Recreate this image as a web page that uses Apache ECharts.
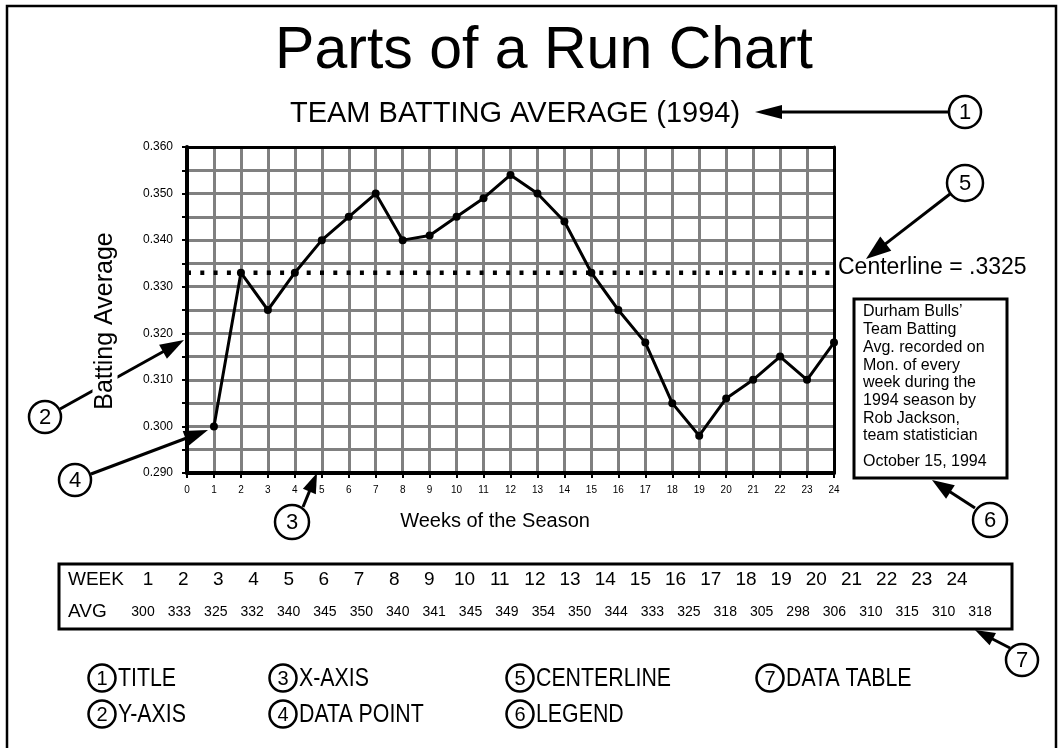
<!DOCTYPE html>
<html>
<head>
<meta charset="utf-8">
<script src="https://cdn.jsdelivr.net/npm/echarts@6/dist/echarts.min.js"></script>
<style>html,body{margin:0;padding:0;background:#fff}#c{width:1060px;height:748px}</style>
</head>
<body>
<div id="c"></div>
<script>
// ---- data ----
const weeks = [1,2,3,4,5,6,7,8,9,10,11,12,13,14,15,16,17,18,19,20,21,22,23,24];
const battingAvg = [0.300,0.333,0.325,0.333,0.340,0.345,0.350,0.340,0.341,0.345,0.349,0.354,0.350,0.344,0.333,0.325,0.318,0.305,0.298,0.306,0.310,0.315,0.310,0.318];
const tableAvg = ['300','333','325','332','340','345','350','340','341','345','349','354','350','344','333','325','318','305','298','306','310','315','310','318'];
const centerlineValue = 0.333;
const centerlineText = 'Centerline = .3325';
const titleText = 'Parts of a Run Chart';
const subtitleText = 'TEAM BATTING AVERAGE (1994)';
const xAxisName = 'Weeks of the Season';
const yAxisName = 'Batting Average';
const noteLines = ['Durham Bulls\u2019','Team Batting','Avg. recorded on','Mon. of every','week during the','1994 season by','Rob Jackson,','team statistician'];
const noteDate = 'October 15, 1994';
const keyItems = [['1','TITLE'],['2','Y-AXIS'],['3','X-AXIS'],['4','DATA POINT'],['5','CENTERLINE'],['6','LEGEND'],['7','DATA TABLE']];

// ---- helpers ----
const FF = '"Liberation Sans", Arial, Helvetica, sans-serif';
const G = [];
function txt(x, y, s, size, align, extra) {
  const e = Object.assign({type:'text', x:x, y:y, z:101, style:{text:s, fontSize:size, fontFamily:FF, fill:'#000', align:align||'left', verticalAlign:'middle'}}, extra||{});
  G.push(e); return e;
}
function circ(cx, cy, r, label, size) {
  G.push({type:'circle', z:100, shape:{cx:cx, cy:cy, r:r}, style:{fill:'#fff', stroke:'#000', lineWidth:2.5}});
  txt(cx, cy + 1, label, size, 'center');
}
function arrow(x1, y1, x2, y2, len, hw) {
  const dx = x2 - x1, dy = y2 - y1, d = Math.hypot(dx, dy);
  const ux = dx / d, uy = dy / d, px = -uy, py = ux;
  const bx = x2 - ux * len, by = y2 - uy * len;
  G.push({type:'line', z:100, shape:{x1:x1, y1:y1, x2:bx + ux * 2, y2:by + uy * 2}, style:{stroke:'#000', lineWidth:3}});
  G.push({type:'polygon', z:100, shape:{points:[[x2, y2], [bx + px * hw, by + py * hw], [bx - px * hw, by - py * hw]]}, style:{fill:'#000'}});
}

// outer frame
G.push({type:'rect', z:99, shape:{x:7, y:6, width:1049, height:760}, style:{fill:'none', stroke:'#000', lineWidth:2.5}});
// titles
txt(544, 52, titleText, 59, 'center');
txt(515, 114, subtitleText, 29, 'center');
// axis names
txt(495, 521, xAxisName, 20, 'center');
// annotation arrows + circles
arrow(948, 112, 755, 112, 27, 7);
circ(965, 112, 16, '1', 22);
arrow(60, 409, 184, 340, 24, 8);
txt(105, 321, yAxisName, 25, 'center', {rotation: Math.PI / 2, style:{text:yAxisName, fontSize:25, fontFamily:FF, fill:'#000', align:'center', verticalAlign:'middle', backgroundColor:'#fff', padding:[0, 4]}});
circ(45, 417, 16, '2', 22);
arrow(303, 507, 317, 473, 20, 7);
circ(292, 522, 17, '3', 22);
arrow(91, 474, 208, 430, 24, 8);
circ(75, 480, 16, '4', 22);
arrow(950, 194, 866, 259, 25, 9);
circ(965, 183, 18, '5', 22);
txt(838, 268, centerlineText, 23, 'left');
// note box (legend)
G.push({type:'rect', z:100, shape:{x:854, y:299, width:153, height:179}, style:{fill:'#fff', stroke:'#000', lineWidth:3}});
noteLines.forEach(function (s, i) { txt(863, 312 + i * 17.7, s, 16, 'left'); });
txt(863, 462, noteDate, 16, 'left');
arrow(975, 508, 932, 480, 22, 8);
circ(990, 520, 17, '6', 22);
// data table
G.push({type:'rect', z:100, shape:{x:59, y:564, width:953, height:65}, style:{fill:'#fff', stroke:'#000', lineWidth:3}});
txt(68, 580, 'WEEK', 19, 'left');
txt(68, 612, 'AVG', 19, 'left');
weeks.forEach(function (w, i) { txt(148 + i * (809 / 23), 580, String(w), 19, 'center'); });
tableAvg.forEach(function (a, i) { txt(143 + i * (837 / 23), 612, a, 14, 'center'); });
arrow(1010, 648, 975, 630, 20, 7);
circ(1022, 660, 16, '7', 22);
// key
const keyPos = {'1':[102,678],'2':[102,714],'3':[283,678],'4':[283,714],'5':[520,678],'6':[520,714],'7':[770,678]};
keyItems.forEach(function (k) {
  const p = keyPos[k[0]];
  circ(p[0], p[1], 13.5, k[0], 20);
  txt(p[0] + 16, p[1] + 1, k[1], 26, 'left', {scaleX: 0.82});
});

// ---- chart ----
const chart = echarts.init(document.getElementById('c'), null, {renderer:'canvas'});
const lineData = weeks.map(function (w, i) { return [w, battingAvg[i]]; });
const grey = '#808080';
const option = {
  animation: false,
  backgroundColor: '#fff',
  grid: {left:187, top:147, width:647, height:326, containLabel:false},
  xAxis: [{
    type:'value', min:0, max:24, interval:1, position:'bottom',
    axisLine:{show:true, onZero:false, lineStyle:{color:'#000', width:4}},
    axisTick:{show:true, length:5, lineStyle:{color:'#000', width:2}},
    axisLabel:{color:'#000', fontSize:10, fontFamily:FF, margin:12},
    splitLine:{show:true, showMinLine:false, showMaxLine:false, lineStyle:{color:grey, width:3}}
  }, {
    type:'value', min:0, max:24, interval:1, position:'top',
    axisLine:{show:true, onZero:false, lineStyle:{color:'#000', width:3}},
    axisTick:{show:false}, axisLabel:{show:false}, splitLine:{show:false}
  }],
  yAxis: [{
    type:'value', min:0.290, max:0.360, interval:0.005, position:'left',
    axisLine:{show:true, onZero:false, lineStyle:{color:'#000', width:4}},
    axisTick:{show:true, length:5, lineStyle:{color:'#000', width:2}},
    axisLabel:{color:'#000', fontSize:12, fontFamily:FF, margin:14,
      formatter:function (v) { return Math.round(v * 1000) % 10 === 0 ? v.toFixed(3) : ''; }},
    splitLine:{show:true, showMinLine:false, showMaxLine:false, lineStyle:{color:grey, width:3}}
  }, {
    type:'value', min:0.290, max:0.360, interval:0.005, position:'right',
    axisLine:{show:true, onZero:false, lineStyle:{color:'#000', width:3}},
    axisTick:{show:false}, axisLabel:{show:false}, splitLine:{show:false}
  }],
  series: [{
    type:'line', name:'centerline', xAxisIndex:0, yAxisIndex:0, z:3,
    data:[[0, centerlineValue], [24, centerlineValue]],
    symbol:'none', silent:true,
    lineStyle:{color:'#000', width:4.5, type:[4, 9.3]}
  }, {
    type:'line', name:'avg', xAxisIndex:0, yAxisIndex:0, z:4,
    data: lineData, symbol:'circle', symbolSize:8, showAllSymbol:true,
    itemStyle:{color:'#000'}, lineStyle:{color:'#000', width:3}
  }],
  graphic: G
};
chart.setOption(option);
</script>
</body>
</html>
